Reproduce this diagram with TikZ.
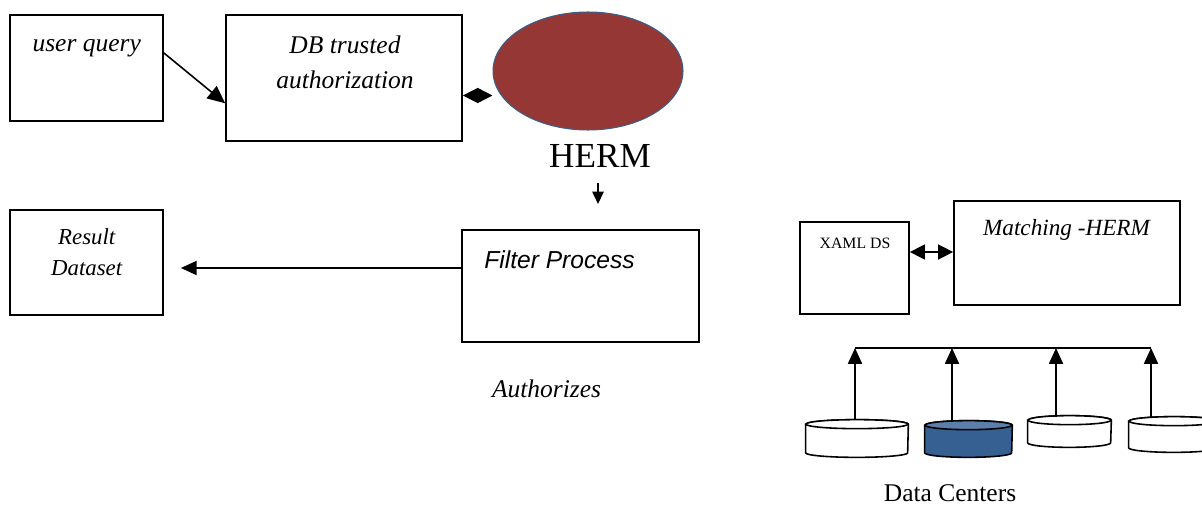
\documentclass[tikz,border=0pt]{standalone}
\usepackage{fontspec}
\setmainfont{Liberation Serif}
\newfontfamily\arialfont{Liberation Sans}
\usepackage{tikz}
\usetikzlibrary{
    arrows.meta,
    shapes,
    shapes.geometric
}
\definecolor{hermred}{HTML}{953735}
\definecolor{hermedge}{HTML}{3A5F8B}
\definecolor{dcblue}{HTML}{376092}
\definecolor{dctop}{HTML}{5B7FAA}

\tikzset{
    box/.style={draw, rectangle, line width=1pt, inner sep=0pt},
    txt/.style={inner sep=0pt, anchor=base},
    conn/.style={-{Triangle[length=9pt, width=8pt]}, line width=0.9pt},
    dconn/.style={{Triangle[length=8.5pt, width=8.5pt]}-{Triangle[length=8.5pt, width=8.5pt]}, line width=0.8pt},
    dc/.style={rectangle, inner sep=0pt}
}

% disk drawn round a named node: name, x radius, body colour, end colour
\newcommand{\dbdisk}[4]{%
    \draw[line width=0.9pt, fill=#3] ([yshift=-0.09cm]#1.north west) -- ([yshift=0.09cm]#1.south west)
        arc[start angle=180, end angle=360, x radius=#2, y radius=0.09cm]
        -- ([yshift=-0.09cm]#1.north east)
        arc[start angle=0, end angle=180, x radius=#2, y radius=0.09cm] -- cycle;
    \draw[line width=0.9pt, fill=#4] ([yshift=-0.09cm]#1.north) ellipse[x radius=#2, y radius=0.09cm];
}

\begin{document}
\begin{tikzpicture}[x=0.02cm, y=-0.02cm]
            \useasboundingbox (0,0) rectangle (1202,507);

            % boxes
            \node[box, minimum width=3.06cm, minimum height=2.12cm] (query) at (86.5, 68) {};
            \node[box, minimum width=4.72cm, minimum height=2.52cm] (trusted) at (344, 78) {};
            \node[box, minimum width=3.06cm, minimum height=2.10cm] (result) at (86.5, 262.5) {};
            \node[box, minimum width=4.74cm, minimum height=2.24cm] (filter) at (580.5, 286) {};
            \node[box, minimum width=2.18cm, minimum height=1.84cm] (xaml) at (854.5, 268) {};
            \node[box, minimum width=4.52cm, minimum height=2.08cm] (matching) at (1067, 253) {};

            \node[draw=hermedge, fill=hermred, ellipse, line width=0.6pt, inner sep=0pt,
                  minimum width=3.8cm, minimum height=2.36cm] (herm) at (588, 71) {};

            % texts
            \node[txt, font=\fontsize{14.5}{20}\selectfont\itshape] (querytxt) at (86.7, 51) {user query};
            \node[txt, font=\fontsize{14.5}{20}\selectfont\itshape, anchor=north, align=center] (trustedtxt) at (345, 35) {DB trusted\\authorization};
            \node[txt, font=\fontsize{13}{17.6}\selectfont\itshape, anchor=north, align=center] (resulttxt) at (86.7, 228.5) {Result\\Dataset};
            \node[txt, font=\fontsize{14}{17}\arialfont\itshape, anchor=base west] (filtertxt) at (484, 268) {Filter Process};
            \node[txt, font=\fontsize{14.5}{18}\selectfont\itshape] (authtxt) at (546.5, 397) {Authorizes};
            \node[txt, font=\fontsize{20}{24}\selectfont] (hermtxt) at (600, 167) {HERM};
            \node[txt, font=\fontsize{9}{11}\selectfont] (xamltxt) at (855, 248) {XAML DS};
            \node[txt, font=\fontsize{13.2}{16}\selectfont\itshape] (matchtxt) at (1066.5, 235) {Matching -HERM};
            \node[txt, font=\fontsize{14.5}{17}\selectfont] (dctxt) at (950, 501) {Data Centers};

            % data centers
            \node[dc, minimum width=2.04cm, minimum height=0.74cm] (dc1) at (857, 438.5) {};
            \node[dc, minimum width=1.74cm, minimum height=0.72cm] (dc2) at (968.5, 439) {};
            \node[dc, minimum width=1.66cm, minimum height=0.62cm] (dc3) at (1069.5, 431.5) {};
            \node[dc, minimum width=1.80cm, minimum height=0.70cm] (dc4) at (1174, 434.5) {};
            \dbdisk{dc1}{1.02cm}{white}{white}
            \dbdisk{dc2}{0.87cm}{dcblue}{dctop}
            \dbdisk{dc3}{0.83cm}{white}{white}
            \dbdisk{dc4}{0.90cm}{white}{white}

            \coordinate (busL) at (855, 348);
            \coordinate (busR) at (1151, 348);
            \coordinate (hermdown) at (598, 204);

            % connectors
            \draw[conn, -{Triangle[length=10pt, width=9pt]}] (query.11) -- (trusted.192);
            \draw[dconn] ([yshift=-0.35cm]trusted.east) -- ([yshift=-0.35cm]trusted.east -| herm.west);
            \draw[conn, line width=0.7pt, -{Triangle[length=7pt, width=6.5pt]}] ([yshift=-0.32cm]hermtxt.south -| hermdown) -- (hermdown);
            \draw[conn, shorten >=0.34cm] ([yshift=0.36cm]filter.west) -- ([yshift=0.36cm]filter.west -| result.east);
            \draw[dconn] ([yshift=0.32cm]xaml.east) -- ([yshift=0.32cm]xaml.east -| matching.west);

            \draw[line width=0.9pt] (busL) -- (busR);
            \draw[conn] (dc1.north -| busL) -- (busL);
            \draw[conn] ([xshift=-0.33cm]dc2.north) -- ([xshift=-0.33cm]dc2.north |- busL);
            \draw[conn] ([xshift=-0.27cm, yshift=-0.03cm]dc3.north) -- ([xshift=-0.27cm]dc3.north |- busL);
            \draw[conn] ([yshift=-0.02cm]dc4.north -| busR) -- (busR);
\end{tikzpicture}
\end{document}
